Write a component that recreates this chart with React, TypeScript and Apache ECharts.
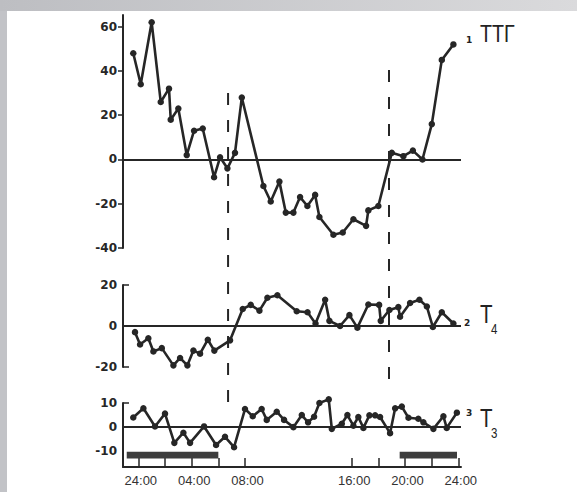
import React, { useEffect, useRef } from "react";
import * as echarts from "echarts";

// ---------- data (hours after midnight, value) ----------
const ttgPoints: [number, number][] = [
  [-0.38, 48], [0.18, 34], [1.0, 62], [1.68, 26], [2.3, 32], [2.43, 18], [3.0, 23],
  [3.63, 2], [4.18, 13], [4.83, 14], [5.68, -8], [6.13, 1], [6.68, -4], [7.25, 3],
  [7.76, 28], [9.38, -12], [9.93, -19], [10.58, -10], [11.06, -24], [11.63, -24],
  [12.13, -17], [12.68, -21], [13.26, -16], [13.58, -26], [14.63, -34], [15.33, -33],
  [16.13, -27], [17.08, -30], [17.25, -23], [18.0, -21], [19.01, 3], [19.88, 1.5],
  [20.59, 4], [21.31, 0], [22.01, 16], [22.76, 45], [23.63, 52],
];
const t4Points: [number, number][] = [
  [-0.25, -3], [0.13, -9], [0.75, -6], [1.13, -12.4], [1.76, -10.8], [2.63, -19.2],
  [3.13, -15.6], [3.68, -19.2], [4.13, -12], [4.63, -13.5], [5.21, -6.7], [5.7, -12],
  [6.88, -7], [7.83, 8.3], [8.43, 10.3], [9.08, 7.5], [9.68, 13.8], [10.43, 15],
  [11.88, 7.2], [12.69, 6.7], [13.29, 1.2], [14.01, 12.8], [14.33, 2.5], [15.13, 0],
  [15.83, 5.3], [16.43, -0.8], [17.25, 10.5], [18.06, 10.3], [18.18, 2.5], [18.83, 7.8],
  [19.5, 9.2], [19.63, 4.5], [20.38, 11.2], [21.08, 12.8], [21.64, 9.5], [22.09, -0.5],
  [22.76, 6.7], [23.63, 1.2],
];
const t3Points: [number, number][] = [
  [-0.38, 4], [0.38, 7.8], [1.25, 0.3], [2.0, 5.6], [2.7, -6.5], [3.38, -2.3],
  [3.88, -6.5], [4.93, 0.3], [5.83, -7.4], [6.5, -4], [7.18, -8.3], [8.0, 7.5],
  [8.58, 4.5], [9.25, 7.5], [9.63, 3], [10.38, 6.4], [10.93, 3], [11.63, 0],
  [12.26, 5], [12.73, 2], [13.18, 4.3], [13.58, 10], [14.28, 11.5], [14.51, -0.7],
  [15.26, 1.4], [15.68, 5], [16.13, 0.6], [16.5, 4.2], [16.88, -0.3], [17.33, 4.9],
  [17.76, 4.9], [18.13, 4.2], [18.88, -2.5], [19.26, 7.8], [19.76, 8.5], [20.26, 3.9],
  [21.0, 3.5], [21.38, 2], [22.13, -0.7], [22.88, 4.5], [23.13, -0.3], [23.89, 6],
];
const eventHours = [6.73, 18.8];
const nightBands: [number, number][] = [[-0.87, 6.0], [19.6, 23.9]];
const xTickHours = [0, 2, 4, 6, 8, 16, 18, 20, 22, 24];
const xLabelHours = [0, 4, 8, 16, 20, 24];
const xTickLabels = ["24:00", "04:00", "08:00", "16:00", "20:00", "24:00"];
const ttgTicks = [-40, -20, 0, 20, 40, 60];
const t4Ticks = [-20, 0, 20];
const t3Ticks = [-10, 0, 10];

// ---------- layout ----------
const INK = "#262626";
const X_MIN = -1.15;
const X_MAX = 24.2;
const LEFT = 123;
const WIDTH = 338;
const dashSpans: [number, number][] = [[93, 410], [70, 387]];

export default function App() {
  const ref = useRef<HTMLDivElement>(null);
  useEffect(() => {
    if (!ref.current) return;
    const chart = echarts.init(ref.current, null, { renderer: "svg" });
    const zero = {
      silent: true,
      symbol: "none",
      label: { show: false },
      lineStyle: { color: INK, width: 1.8, type: "solid" },
      data: [{ yAxis: 0 }],
    };
    const yLabel = {
      color: INK,
      fontFamily: "DejaVu Sans, sans-serif",
      fontWeight: "bold",
      fontSize: 12,
      margin: 6,
    };
    const lineSeries = (data: [number, number][], idx: number, extra: any = {}) => ({
      type: "line",
      xAxisIndex: idx,
      yAxisIndex: idx,
      data,
      clip: false,
      symbol: "circle",
      symbolSize: 6.5,
      lineStyle: { color: INK, width: 2.6 },
      itemStyle: { color: INK },
      markLine: zero,
      silent: true,
      ...extra,
    });
    const txt = (text: string, x: number, y: number, size: number, bold = false, scaleX = 0.82) => ({
      type: "text",
      x,
      y,
      scaleX,
      style: {
        text,
        fill: "#222",
        fontSize: size,
        fontWeight: bold ? "bold" : "normal",
        fontFamily: bold ? "DejaVu Sans, sans-serif" : "Liberation Sans, Arial, sans-serif",
        align: "left",
        textAlign: "left",
        verticalAlign: "middle",
        textVerticalAlign: "middle",
      },
    });
    const yBase = {
      type: "value",
      splitLine: { show: false },
      axisLine: { show: true, onZero: false, lineStyle: { color: INK, width: 2 } },
    };
    chart.setOption({
      animation: false,
      backgroundColor: "#ffffff",
      grid: [
        { left: LEFT, width: WIDTH, top: 15, height: 233 },
        { left: LEFT, width: WIDTH, top: 285, height: 82 },
        { left: LEFT, width: WIDTH, top: 403, height: 64 },
        { left: LEFT, width: WIDTH, top: 0, height: 492 },
      ],
      xAxis: [0, 1, 2, 3].map((i) => ({
        type: "value",
        gridIndex: i,
        min: X_MIN,
        max: X_MAX,
        show: i === 2,
        splitLine: { show: false },
        axisLine: { show: true, onZero: false, lineStyle: { color: INK, width: 2 } },
        axisTick: {
          show: true,
          inside: true,
          length: 9,
          customValues: xTickHours,
          lineStyle: { color: INK, width: 1.5 },
        },
        axisLabel: {
          customValues: xLabelHours,
          formatter: (v: number) => {
            const k = xLabelHours.indexOf(Math.round(v));
            return k >= 0 ? xTickLabels[k] : "";
          },
          color: "#333",
          fontFamily: "Liberation Sans, Arial, sans-serif",
          fontSize: 13,
          margin: 7,
          padding: [0, 0, 0, 5],
        },
      })),
      yAxis: [
        {
          ...yBase,
          gridIndex: 0,
          min: -40,
          max: 65.3,
          axisTick: { show: true, length: 5, customValues: ttgTicks, lineStyle: { color: INK, width: 1.5 } },
          axisLabel: { ...yLabel, customValues: ttgTicks },
        },
        {
          ...yBase,
          gridIndex: 1,
          min: -20,
          max: 20,
          axisTick: { show: true, inside: true, length: 6, customValues: [-20, 20], lineStyle: { color: INK, width: 1.5 } },
          axisLabel: { ...yLabel, customValues: t4Ticks },
        },
        {
          ...yBase,
          gridIndex: 2,
          min: -16.5,
          max: 10,
          axisTick: { show: true, inside: true, length: 6, customValues: [10], lineStyle: { color: INK, width: 1.5 } },
          axisLabel: { ...yLabel, customValues: t3Ticks },
        },
        { type: "value", gridIndex: 3, min: 0, max: 492, inverse: true, show: false, splitLine: { show: false } },
      ],
      series: [
        lineSeries(ttgPoints, 0),
        lineSeries(t4Points, 1),
        lineSeries(t3Points, 2, {
          markArea: {
            silent: true,
            itemStyle: { color: "#3d3d3d" },
            data: nightBands.map(([a, b]) => [
              { xAxis: a, yAxis: -10.2 },
              { xAxis: b, yAxis: -13 },
            ]),
          },
        }),
        ...eventHours.map((h, i) => ({
          type: "line",
          xAxisIndex: 3,
          yAxisIndex: 3,
          silent: true,
          symbol: "none",
          data: [
            [h, dashSpans[i][0]],
            [h, dashSpans[i][1]],
          ],
          lineStyle: { color: INK, width: 2, type: [12, 15] },
        })),
      ],
      graphic: [
        { type: "rect", silent: true, shape: { x: 0, y: 0, width: 7, height: 492 }, style: { fill: "#c2c3c7" } },
        {
          type: "rect",
          silent: true,
          shape: { x: 0, y: 0, width: 577, height: 11 },
          style: {
            fill: new echarts.graphic.LinearGradient(0, 0, 1, 0, [
              { offset: 0, color: "#bdbec2" },
              { offset: 1, color: "#dadadc" },
            ]),
          },
        },
        txt("ТТГ", 480, 34, 24),
        txt("1", 466, 40, 9, true, 1),
        txt("T", 480, 314, 25),
        txt("4", 491, 329, 14),
        txt("2", 464, 323, 9, true, 1),
        txt("T", 480, 418, 25),
        txt("3", 491, 433, 14),
        txt("3", 466, 413, 9, true, 1),
      ],
    });
    return () => chart.dispose();
  }, []);
  return (
    <div
      ref={ref}
      style={{ position: "fixed", left: 0, top: 0, width: 577, height: 492, background: "#fff" }}
    />
  );
}
